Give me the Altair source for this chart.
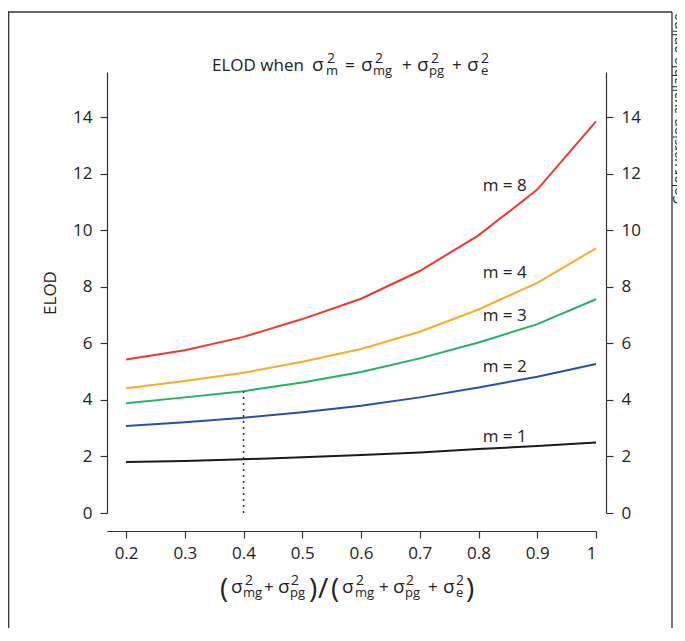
import altair as alt
import pandas as pd

# ---------------- data ----------------
x_vals = [0.2, 0.3, 0.4, 0.5, 0.6, 0.7, 0.8, 0.9, 1.0]
elod_m1 = [1.80, 1.84, 1.90, 1.97, 2.05, 2.14, 2.26, 2.37, 2.49]
elod_m2 = [3.08, 3.21, 3.37, 3.56, 3.79, 4.09, 4.44, 4.82, 5.27]
elod_m3 = [3.88, 4.09, 4.31, 4.62, 4.99, 5.47, 6.03, 6.68, 7.56]
elod_m4 = [4.41, 4.67, 4.96, 5.35, 5.80, 6.41, 7.20, 8.14, 9.36]
elod_m8 = [5.43, 5.76, 6.23, 6.86, 7.58, 8.56, 9.82, 11.44, 13.85]
series_names = ["m = 1", "m = 2", "m = 3", "m = 4", "m = 8"]
series_colors = ["#1a1a1a", "#2a4ea6", "#27af63", "#f9ab2e", "#ec3b2c"]
label_x = [0.807, 0.807, 0.807, 0.807, 0.807]
label_y = [2.70, 5.16, 6.97, 8.49, 11.56]
x_ticks = [0.2, 0.3, 0.4, 0.5, 0.6, 0.7, 0.8, 0.9, 1.0]
y_ticks = [0, 2, 4, 6, 8, 10, 12, 14]
dotted_x = 0.4
dotted_top = elod_m3[2]

FONT = "Open Sans"
W, H = 489, 441
PX0, PY0 = 107, 72  # page position of the plot area

rows = []
for name, vals in zip(series_names, [elod_m1, elod_m2, elod_m3, elod_m4, elod_m8]):
    for xv, yv in zip(x_vals, vals):
        rows.append({"x": xv, "elod": yv, "m": name})
df = pd.DataFrame(rows)
labels_df = pd.DataFrame({"x": label_x, "y": label_y, "t": series_names})
dot_df = pd.DataFrame({"x": [dotted_x], "y0": [0.0], "y1": [dotted_top]})

xscale = alt.Scale(domain=[0.1675, 1.0], nice=False, zero=False)
yscale = alt.Scale(domain=[0, 15.6], nice=False, zero=False)


def x_axis():
    return alt.Axis(values=x_ticks, format="~g", offset=18, title=None,
                    labelPadding=7, grid=False)


lines = alt.Chart(df).mark_line(strokeWidth=2).encode(
    x=alt.X("x:Q", scale=xscale, axis=x_axis()),
    y=alt.Y("elod:Q", scale=yscale,
            axis=alt.Axis(values=y_ticks, orient="left", title="ELOD",
                          titlePadding=13, labelPadding=8, grid=False)),
    color=alt.Color("m:N", scale=alt.Scale(domain=series_names, range=series_colors),
                    legend=None),
)

dotted = alt.Chart(dot_df).mark_rule(strokeDash=[2, 4], strokeWidth=1.5, color="#333").encode(
    x=alt.X("x:Q", scale=xscale, axis=x_axis()),
    y=alt.Y("y0:Q", scale=yscale,
            axis=alt.Axis(values=y_ticks, orient="right", offset=10, title=None,
                          labelPadding=8, grid=False)),
    y2="y1:Q",
)

labels = alt.Chart(labels_df).mark_text(
    align="left", baseline="middle", font=FONT, fontSize=17, color="#222"
).encode(
    x=alt.X("x:Q", scale=xscale, axis=x_axis()),
    y=alt.Y("y:Q", scale=yscale, axis=None),
    text="t:N",
)

# ---------- typeset pieces for title and x-axis title (page px) ----------
SIZES = {"main": 17, "sig": 19, "sup": 14, "sub": 13, "big": 28}
title_pieces = [
    ("ELOD when", 212, "main"), ("σ", 312, "sig"), ("2", 327, "sup"), ("m", 326, "sub"),
    ("=", 345, "main"), ("σ", 361, "sig"), ("2", 375, "sup"), ("mg", 373, "sub"),
    ("+", 402, "main"), ("σ", 417, "sig"), ("2", 431, "sup"), ("pg", 429, "sub"),
    ("+", 452, "main"), ("σ", 467, "sig"), ("2", 481, "sup"), ("e", 481, "sub"),
]
title_base = {"main": 71, "sig": 71, "sup": 63, "sub": 75}
xt_pieces = [
    ("(", 220, "big"), ("σ", 231, "sig"), ("2", 245, "sup"), ("mg", 243, "sub"),
    ("+", 264, "main"), ("σ", 278, "sig"), ("2", 291, "sup"), ("pg", 290, "sub"),
    (")", 309, "big"), ("/", 318, "big"), ("(", 331, "big"),
    ("σ", 342, "sig"), ("2", 356, "sup"), ("mg", 355, "sub"),
    ("+", 379, "main"), ("σ", 393, "sig"), ("2", 406, "sup"), ("pg", 405, "sub"),
    ("+", 428, "main"), ("σ", 443, "sig"), ("2", 456, "sup"), ("e", 456, "sub"),
    (")", 466, "big"),
]
xt_base = {"main": 593, "sig": 593, "sup": 585, "sub": 597, "big": 598}

one = alt.Data(values=[{"k": 1}])
deco = []
for txt, px, kind in title_pieces:
    deco.append(alt.Chart(one).mark_text(
        text=txt, align="left", baseline="alphabetic", font=FONT,
        fontSize=SIZES[kind], color="#222"
    ).encode(x=alt.value(px - PX0), y=alt.value(title_base[kind] - PY0)))
for txt, px, kind in xt_pieces:
    deco.append(alt.Chart(one).mark_text(
        text=txt, align="left", baseline="alphabetic", font=FONT,
        fontSize=SIZES[kind], color="#222"
    ).encode(x=alt.value(px - PX0), y=alt.value(xt_base[kind] - PY0)))

# outer frame (three sides visible) and side note
FL, FT, FR, FB = 8, 12, 672, 645
frame = [
    alt.Chart(one).mark_rule(color="#333", strokeWidth=1.3).encode(
        x=alt.value(FL + 0.7 - PX0), y=alt.value(FT - PY0), y2=alt.value(FB - PY0)),
    alt.Chart(one).mark_rule(color="#333", strokeWidth=1.3).encode(
        x=alt.value(FR - PX0), y=alt.value(FT - PY0), y2=alt.value(FB - PY0)),
    alt.Chart(one).mark_rule(color="#333", strokeWidth=1.3).encode(
        x=alt.value(FL - PX0), x2=alt.value(FR - PX0), y=alt.value(FT - PY0)),
]
side = alt.Chart(one).mark_text(
    text="Color version available online", angle=270, align="right",
    baseline="alphabetic", font=FONT, fontSize=14, color="#222"
).encode(x=alt.value(683 - PX0), y=alt.value(13 - PY0))

# page is 685 x 641 with an 8 px body margin on every side: keep the svg
# inside 8..677 horizontally and 8..628 vertically so nothing scrolls
PAD_L, PAD_T = PX0 - 8, PY0 - 8
PAD_R = 677 - 8 - PAD_L - W
PAD_B = 628 - 8 - PAD_T - H

chart = alt.layer(lines, dotted, labels, *deco, *frame, side).resolve_axis(
    y="independent"
).properties(
    width=W, height=H,
    autosize=alt.AutoSizeParams(type="none"),
    padding={"left": PAD_L, "top": PAD_T, "right": PAD_R, "bottom": PAD_B},
).configure_view(stroke=None).configure_axis(
    labelFont=FONT, labelFontSize=17, labelColor="#222",
    titleFont=FONT, titleFontSize=17, titleFontWeight="normal", titleColor="#222",
    domainColor="#333", tickColor="#333", tickSize=7, domainWidth=1.2, tickWidth=1.2,
)

chart.save("out.html", embed_options={"renderer": "svg", "actions": False})
